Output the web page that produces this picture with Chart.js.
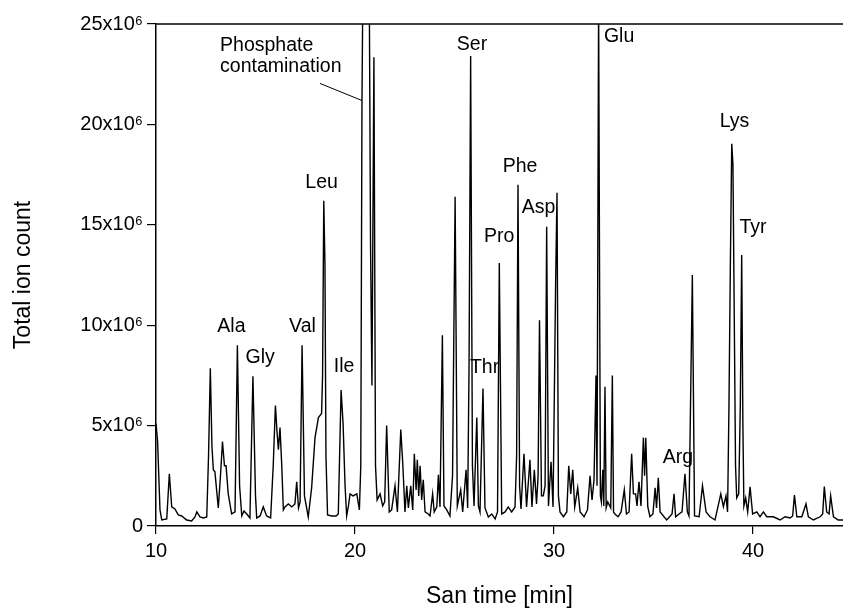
<!DOCTYPE html>
<html>
<head>
<meta charset="utf-8">
<title>Total ion chromatogram</title>
<script src="https://cdn.jsdelivr.net/npm/chart.js@4.4.0/dist/chart.umd.min.js"></script>
<style>
  html, body { margin: 0; padding: 0; background: #fff; }
  #wrap { width: 843px; height: 608px; position: relative; }
</style>
</head>
<body>
<div id="wrap"><canvas id="tic"></canvas></div>
<script>
// scan time (min) and total ion count (x10^6)
const scanTime = [
  10.00, 10.08, 10.20, 10.29, 10.54, 10.67, 10.79, 10.95, 11.12, 11.29,
  11.54, 11.79, 11.96, 12.05, 12.21, 12.38, 12.55, 12.64, 12.73, 12.81,
  12.88, 12.96, 13.13, 13.24, 13.34, 13.44, 13.52, 13.63, 13.80, 13.97,
  14.09, 14.20, 14.31, 14.42, 14.56, 14.72, 14.87, 15.00, 15.06, 15.23,
  15.39, 15.56, 15.76, 15.89, 16.00, 16.08, 16.15, 16.23, 16.32, 16.40,
  16.48, 16.65, 16.82, 16.98, 17.07, 17.16, 17.24, 17.34, 17.46, 17.65,
  17.82, 17.99, 18.16, 18.32, 18.37, 18.43, 18.49, 18.54, 18.62, 18.83,
  19.05, 19.16, 19.30, 19.40, 19.50, 19.58, 19.67, 19.75, 19.90, 20.09,
  20.22, 20.29, 20.35, 20.42, 20.70, 20.78, 20.85, 20.95, 21.03, 21.11,
  21.26, 21.39, 21.49, 21.59, 21.72, 21.84, 22.01, 22.13, 22.30, 22.40,
  22.51, 22.60, 22.68, 22.80, 22.90, 22.98, 23.07, 23.13, 23.20, 23.27,
  23.35, 23.43, 23.52, 23.68, 23.77, 23.90, 23.98, 24.11, 24.19, 24.27,
  24.39, 24.47, 24.61, 24.77, 24.90, 25.03, 25.14, 25.31, 25.41, 25.58,
  25.66, 25.73, 25.81, 25.90, 25.98, 26.12, 26.20, 26.28, 26.43, 26.53,
  26.70, 26.87, 27.04, 27.16, 27.25, 27.37, 27.54, 27.70, 27.87, 28.04,
  28.12, 28.19, 28.27, 28.34, 28.49, 28.62, 28.79, 28.89, 29.01, 29.12,
  29.20, 29.27, 29.37, 29.46, 29.55, 29.63, 29.72, 29.85, 29.95, 30.08,
  30.15, 30.22, 30.30, 30.47, 30.64, 30.74, 30.84, 30.94, 31.04, 31.19,
  31.31, 31.51, 31.68, 31.81, 31.91, 32.01, 32.11, 32.16, 32.24, 32.29,
  32.33, 32.38, 32.45, 32.50, 32.56, 32.62, 32.70, 32.85, 32.93, 32.99,
  33.06, 33.22, 33.37, 33.53, 33.64, 33.77, 33.90, 33.99, 34.10, 34.17,
  34.27, 34.37, 34.49, 34.55, 34.61, 34.71, 34.82, 34.97, 35.08, 35.15,
  35.24, 35.33, 35.66, 35.93, 36.03, 36.11, 36.28, 36.43, 36.58, 36.70,
  36.78, 36.95, 37.06, 37.29, 37.46, 37.64, 37.84, 38.09, 38.38, 38.51,
  38.64, 38.72, 38.79, 38.86, 38.93, 38.99, 39.06, 39.12, 39.18, 39.28,
  39.36, 39.43, 39.49, 39.54, 39.63, 39.73, 39.85, 39.98, 40.19, 40.35,
  40.52, 40.69, 41.02, 41.36, 41.61, 41.86, 41.99, 42.08, 42.20, 42.45,
  42.66, 42.78, 43.03, 43.37, 43.50, 43.58, 43.70, 43.82, 43.90, 44.04,
  44.28, 44.57
];

const ionCount = [
  5.1, 4.2, 0.8, 0.3, 0.35, 2.6, 0.95, 0.85, 0.55, 0.5,
  0.3, 0.25, 0.45, 0.7, 0.45, 0.4, 0.45, 3.5, 7.85, 4.0,
  2.8, 2.7, 0.9, 2.5, 4.2, 3.0, 3.0, 1.6, 0.6, 0.7,
  9.0, 2.0, 0.5, 0.75, 0.6, 0.4, 7.46, 1.5, 0.4, 0.5,
  0.95, 0.5, 0.4, 3.0, 6.0, 4.7, 3.8, 4.9, 3.0, 0.8,
  0.95, 1.1, 0.95, 1.1, 2.2, 0.9, 1.2, 9.0, 1.5, 0.45,
  1.9, 4.4, 5.4, 5.6, 7.5, 16.2, 13.0, 3.5, 0.55, 0.5,
  0.5, 0.6, 6.77, 5.1, 2.0, 0.5, 1.0, 1.6, 1.5, 1.6,
  0.8, 3.0, 21.2, 30, 30, 14, 7, 23.35, 3, 1.3,
  1.6, 1.0, 1.2, 5.0, 0.7, 0.8, 2.0, 0.7, 4.8, 3.1,
  0.7, 2.0, 0.9, 2.0, 0.8, 3.6, 1.8, 3.3, 1.5, 3.0,
  1.3, 2.3, 0.7, 0.6, 0.5, 1.6, 0.7, 0.95, 2.55, 0.95,
  9.5, 1.0, 0.8, 0.5, 2.5, 16.4, 1.0, 1.8, 0.7, 2.8,
  0.9, 8.0, 23.4, 3, 1.0, 5.4, 1.0, 0.7, 6.85, 0.9,
  0.45, 0.6, 0.35, 0.7, 13.1, 0.6, 0.7, 0.95, 0.7, 0.95,
  3.5, 17.0, 2.0, 0.85, 3.6, 0.95, 3.3, 0.95, 2.8, 1.1,
  2.5, 10.25, 1.5, 1.5, 2.0, 14.9, 1.0, 3.2, 0.95, 12.1,
  16.6, 1.5, 0.7, 0.46, 0.7, 3.0, 1.6, 2.8, 0.95, 1.9,
  0.7, 0.46, 0.8, 2.5, 1.3, 2.3, 7.5, 2.0, 26, 12,
  1.5, 1.2, 2.8, 1.0, 6.93, 0.9, 1.2, 0.9, 7.5, 0.7,
  0.6, 0.46, 0.7, 1.8, 0.6, 0.7, 3.6, 1.6, 1.6, 1.0,
  2.2, 1.0, 4.4, 2.5, 4.4, 0.96, 0.46, 0.6, 1.9, 0.9,
  2.4, 0.7, 0.3, 0.6, 1.6, 0.46, 0.6, 0.7, 2.6, 0.7,
  0.5, 12.5, 0.5, 0.46, 2.0, 0.7, 0.46, 0.3, 1.6, 0.96,
  1.5, 0.7, 6, 13, 19.04, 18.0, 10, 3, 1.4, 1.6,
  6, 13.5, 5, 1.0, 1.4, 0.7, 1.95, 0.6, 0.7, 0.46,
  0.7, 0.46, 0.46, 0.3, 0.46, 0.4, 0.5, 1.54, 0.46, 0.46,
  1.1, 0.46, 0.3, 0.46, 0.6, 1.96, 0.7, 0.6, 1.5, 0.46,
  0.3, 0.3
];

const xTicks = [10, 20, 30, 40];
const yTicks = [0, 5, 10, 15, 20, 25];

// amino acid peak labels, anchored in data units (min, x10^6) at the text baseline
const peakNames = ['Ala', 'Gly', 'Val', 'Leu', 'Ile', 'Ser', 'Thr', 'Pro', 'Phe', 'Asp', 'Glu', 'Lys', 'Tyr', 'Arg'];
const peakLabelTime = [13.79, 15.23, 17.36, 18.32, 19.45, 25.88, 26.51, 27.24, 28.29, 29.22, 33.27, 39.07, 40.0, 36.23];
const peakLabelCount = [9.65, 8.11, 9.65, 16.82, 7.66, 23.73, 7.61, 14.13, 17.61, 15.57, 24.08, 19.85, 14.58, 3.13];

const noteLines = ['Phosphate', 'contamination'];

const FONT = '"Liberation Sans", Arial, sans-serif';

const points = scanTime.map((t, i) => ({ x: t, y: ionCount[i] }));

// labels + leader line + the top frame line
const chromLabels = {
  id: 'chromLabels',
  afterDatasetsDraw(chart) {
    const ctx = chart.ctx;
    const xs = chart.scales.x;
    const ys = chart.scales.y;
    const area = chart.chartArea;
    ctx.save();

    ctx.strokeStyle = '#000';
    ctx.lineWidth = 1.5;
    ctx.beginPath();
    ctx.moveTo(area.left, area.top);
    ctx.lineTo(area.right, area.top);
    ctx.stroke();

    ctx.fillStyle = '#000';
    ctx.font = '19.5px ' + FONT;
    ctx.textBaseline = 'alphabetic';
    ctx.textAlign = 'center';
    for (let i = 0; i < peakNames.length; i++) {
      ctx.fillText(peakNames[i], xs.getPixelForValue(peakLabelTime[i]), ys.getPixelForValue(peakLabelCount[i]));
    }

    ctx.textAlign = 'left';
    ctx.fillText(noteLines[0], xs.getPixelForValue(13.22), ys.getPixelForValue(23.68));
    ctx.fillText(noteLines[1], xs.getPixelForValue(13.22), ys.getPixelForValue(22.59));

    ctx.lineWidth = 1;
    ctx.beginPath();
    ctx.moveTo(xs.getPixelForValue(18.24), ys.getPixelForValue(22.04));
    ctx.lineTo(xs.getPixelForValue(20.35), ys.getPixelForValue(21.19));
    ctx.stroke();
    ctx.restore();
  }
};

new Chart(document.getElementById('tic'), {
  type: 'line',
  data: {
    datasets: [{
      label: 'Total ion count',
      data: points,
      borderColor: '#000',
      borderWidth: 1.4,
      pointRadius: 0,
      tension: 0,
      fill: false
    }]
  },
  options: {
    responsive: true,
    maintainAspectRatio: false,
    animation: false,
    layout: { padding: { top: 24, right: 0, left: 0, bottom: 0 } },
    plugins: {
      legend: { display: false },
      tooltip: { enabled: false }
    },
    scales: {
      x: {
        type: 'linear',
        min: 10,
        max: 44.52,
        afterFit: (s) => { s.height = 82; },
        afterBuildTicks: (s) => { s.ticks = xTicks.map(v => ({ value: v })); },
        ticks: {
          color: '#000',
          font: { size: 20, family: FONT },
          padding: 5,
          maxRotation: 0
        },
        grid: { display: true, drawOnChartArea: false, drawTicks: true, tickLength: 8, color: '#000', lineWidth: 1.2 },
        border: { display: true, color: '#000', width: 1.5 },
        title: {
          display: true,
          text: 'San time [min]',
          color: '#000',
          font: { size: 23, family: FONT, lineHeight: 1 },
          padding: { top: 0, bottom: 0 }
        }
      },
      y: {
        type: 'linear',
        min: 0,
        max: 25,
        afterFit: (s) => { s.width = 156; },
        afterBuildTicks: (s) => { s.ticks = yTicks.map(v => ({ value: v })); },
        ticks: {
          color: '#000',
          font: { size: 20, family: FONT },
          padding: 4,
          callback: (v) => v === 0 ? '0' : v + 'x10\u2076'
        },
        grid: { display: true, drawOnChartArea: false, drawTicks: true, tickLength: 9, color: '#000', lineWidth: 1.2 },
        border: { display: true, color: '#000', width: 1.5 },
        title: {
          display: true,
          text: 'Total ion count',
          color: '#000',
          font: { size: 23, family: FONT, lineHeight: 1 },
          padding: { top: 12, bottom: 0 }
        }
      }
    }
  },
  plugins: [chromLabels]
});
</script>
</body>
</html>
